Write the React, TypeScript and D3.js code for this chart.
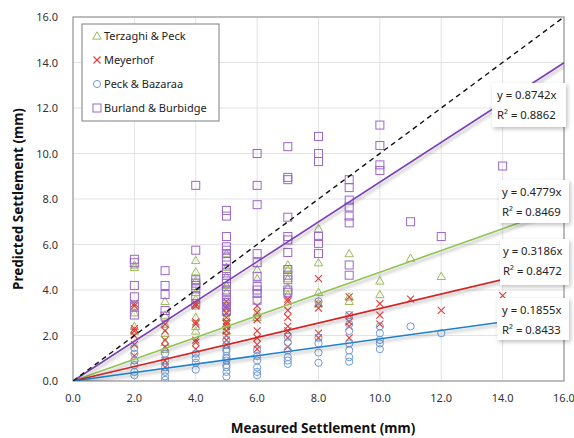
import React from "react";
import * as d3 from "d3";

// Series data: [measured, predicted values...]
const terzaghi: [number, number[]][] = [
  [2, [5.1, 5.0, 3.2, 3.0, 2.4, 2.2]],
  [3, [3.5, 2.9, 2.5, 2.1, 1.7, 1.4]],
  [4, [5.3, 4.8, 4.4, 3.9, 3.6, 3.3, 2.8, 2.4, 2.2]],
  [5, [5.6, 5.0, 4.6, 4.2, 3.9, 3.6, 3.3, 3.0, 2.8, 2.5, 2.2]],
  [6, [4.9, 4.5, 3.0, 2.8]],
  [7, [5.1, 4.9, 4.5, 4.1, 3.8]],
  [8, [6.7, 5.2, 3.9, 3.4]],
  [9, [5.6, 3.7, 3.5]],
  [10, [4.4, 3.8]],
  [11, [5.4]],
  [12, [4.6]],
];
const meyerhof: [number, number[]][] = [
  [2, [3.4, 3.3, 2.3, 2.2, 2.0, 1.6, 1.1]],
  [3, [2.5, 2.2, 1.8, 1.5, 0.9, 0.6]],
  [4, [3.4, 3.3, 2.6, 2.5, 1.8, 1.7, 1.4]],
  [5, [3.5, 3.3, 3.2, 3.0, 2.8, 2.6, 2.5, 2.4, 2.2, 2.0, 1.8, 1.6]],
  [6, [3.3, 3.0, 2.7, 2.2, 1.9, 1.6, 1.4]],
  [7, [3.6, 3.5, 3.1, 2.8, 2.4, 2.2, 1.9, 1.5]],
  [8, [4.5, 3.4, 3.2, 2.1, 1.9]],
  [9, [3.7, 2.9, 2.6, 2.4, 1.9]],
  [10, [3.4, 2.9, 2.5]],
  [11, [3.6]],
  [12, [3.1]],
  [14, [3.75]],
];
const peckBazaraa: [number, number[]][] = [
  [2, [1.45, 1.2, 0.9, 0.7, 0.4, 0.25]],
  [3, [1.2, 0.9, 0.6, 0.4, 0.2, 0.05]],
  [4, [1.2, 1.0, 0.8, 0.5]],
  [5, [1.8, 1.6, 1.4, 1.3, 1.1, 1.0, 0.9, 0.7, 0.6, 0.4, 0.2]],
  [6, [1.35, 1.1, 0.9, 0.6, 0.4, 0.25]],
  [7, [1.95, 1.7, 1.35, 1.05, 0.9, 0.75]],
  [8, [3.5, 1.9, 1.65, 1.25, 0.8]],
  [9, [2.9, 2.5, 2.2, 1.65, 1.35, 1.05, 0.85]],
  [10, [2.4, 2.1, 1.8, 1.65, 1.4]],
  [11, [2.4]],
  [12, [2.1]],
];
const burland: [number, number[]][] = [
  [2, [5.35, 5.2, 4.2, 3.7, 3.3, 2.9]],
  [3, [4.85, 4.2, 3.8, 3.1, 2.85]],
  [4, [8.6, 5.75, 4.45, 4.3, 4.2, 4.05, 3.75, 3.4]],
  [5, [7.5, 7.25, 6.35, 5.9, 5.75, 5.6, 5.45, 5.25, 4.95, 4.75, 4.5, 4.3, 4.0, 3.8, 3.55, 3.35, 3.1]],
  [6, [10.0, 8.6, 7.75, 5.6, 5.2, 4.6, 4.15, 4.0, 3.85, 3.55]],
  [7, [10.3, 8.95, 8.85, 7.2, 6.35, 6.2, 5.65, 4.9, 4.65, 4.45, 4.0, 3.9]],
  [8, [10.75, 10.0, 9.65, 6.35, 6.05, 5.6]],
  [9, [8.85, 8.5, 7.95, 7.65, 7.25, 6.95, 5.1, 4.65]],
  [10, [11.25, 10.35, 9.5, 9.25]],
  [11, [7.0]],
  [12, [6.35]],
  [14, [9.45]],
];

const seriesNames = ["Terzaghi & Peck", "Meyerhof", "Peck & Bazaraa", "Burland & Burbidge"];
const slopes = [0.4779, 0.3186, 0.1855, 0.8742];
const r2 = [0.8469, 0.8472, 0.8433, 0.8862];
const ticks = [0, 2, 4, 6, 8, 10, 12, 14, 16];

const markerColors = ["#9BBB59", "#E23B3B", "#6F9BD8", "#9A66CC"];
const lineColors = ["#94C255", "#D42424", "#1E7FD0", "#7A3DB8"];

const W = 574, H = 438;
const x = d3.scaleLinear().domain([0, 16]).range([73, 564]);
const y = d3.scaleLinear().domain([0, 16]).range([381, 17]);
const font = "'Noto Sans', 'Open Sans', sans-serif";

function flat(s: [number, number[]][]) {
  return s.flatMap(([m, ps]) => ps.map((p) => [m, p] as [number, number]));
}

function Marker({ kind, cx, cy, color }: { kind: number; cx: number; cy: number; color: string }) {
  const common = { fill: "none", stroke: color, strokeWidth: 1 };
  if (kind === 0) {
    const r = 4.2;
    return <path d={`M${cx},${cy - r}L${cx + r},${cy + r * 0.75}L${cx - r},${cy + r * 0.75}Z`} {...common} />;
  }
  if (kind === 1) {
    const r = 3.5;
    return <path d={`M${cx - r},${cy - r}L${cx + r},${cy + r}M${cx + r},${cy - r}L${cx - r},${cy + r}`} {...common} strokeWidth={1.1} />;
  }
  if (kind === 2) return <circle cx={cx} cy={cy} r={3.6} {...common} />;
  return <rect x={cx - 4} y={cy - 4} width={8} height={8} {...common} />;
}

// label placements (layout only)
const labelBoxes = [
  { bx: 499, by: 180, bw: 70, bh: 43, tx: 502 },
  { bx: 500, by: 239, bw: 69, bh: 46, tx: 503 },
  { bx: 497, by: 298, bw: 72, bh: 42, tx: 502 },
  { bx: 492, by: 83, bw: 74, bh: 44, tx: 497 },
];

export default function App() {
  const all = [terzaghi, meyerhof, peckBazaraa, burland].map(flat);
  const line = d3.line<[number, number]>().x((d) => x(d[0])).y((d) => y(d[1]));
  return (
    <svg width={W} height={H} style={{ display: "block", position: "absolute", left: 0, top: 0, background: "#fff" }} fontFamily={font}>
      <defs>
        <clipPath id="plot">
          <rect x={73} y={17} width={491} height={364} />
        </clipPath>
        <filter id="lshadow" x="-10%" y="-10%" width="120%" height="140%">
          <feDropShadow dx={1.5} dy={2.5} stdDeviation={1.6} floodColor="#000" floodOpacity={0.3} />
        </filter>
        <filter id="bshadow" x="-20%" y="-20%" width="150%" height="150%">
          <feDropShadow dx={1.5} dy={2} stdDeviation={2} floodColor="#000" floodOpacity={0.25} />
        </filter>
      </defs>
      <rect width={W} height={H} fill="#fff" />
      {/* grid */}
      {ticks.map((t) => (
        <g key={"g" + t}>
          <line x1={x(t)} x2={x(t)} y1={y(0)} y2={y(16)} stroke="#E3E3E3" strokeWidth={1} />
          <line x1={x(0)} x2={x(16)} y1={y(t)} y2={y(t)} stroke="#E3E3E3" strokeWidth={1} />
        </g>
      ))}
      <rect x={73} y={17} width={491} height={364} fill="none" stroke="#9A9A9A" strokeWidth={1.2} />
      {/* ticks labels */}
      {ticks.map((t) => (
        <text key={"xt" + t} x={x(t)} y={402} textAnchor="middle" fontSize={11} fill="#333">
          {t.toFixed(1)}
        </text>
      ))}
      {ticks.map((t) => (
        <text key={"yt" + t} x={58} y={y(t) + 4} textAnchor="end" fontSize={11} fill="#333">
          {t.toFixed(1)}
        </text>
      ))}
      <text x={323} y={433} textAnchor="middle" fontSize={13.5} fontWeight="bold" fill="#111">
        Measured Settlement (mm)
      </text>
      <text transform={`translate(23,199) rotate(-90)`} textAnchor="middle" fontSize={13.5} fontWeight="bold" fill="#111">
        Predicted Settlement (mm)
      </text>
      {/* points */}
      <g clipPath="url(#plot)">
        {all.map((pts, si) =>
          pts.map((p, i) => <Marker key={si + "-" + i} kind={si} cx={x(p[0])} cy={y(p[1])} color={markerColors[si]} />)
        )}
      </g>
      {/* lines */}
      <g clipPath="url(#plot)">
        {slopes.map((s, i) => (
          <path key={"l" + i} d={line([[0, 0], [16, 16 * s]]) || ""} stroke={lineColors[i]} strokeWidth={1.6} fill="none" filter="url(#lshadow)" />
        ))}
        <path d={line([[0, 0], [16, 16]]) || ""} stroke="#111" strokeWidth={1.4} strokeDasharray="5,4" fill="none" />
      </g>
      {/* equation labels */}
      {labelBoxes.map((b, i) => (
        <g key={"lb" + i}>
          <rect x={b.bx} y={b.by} width={b.bw} height={b.bh} fill="#fff" filter="url(#bshadow)" />
          <text x={b.tx} y={b.by + 16} fontSize={11.3} fill="#222">{`y = ${slopes[i].toFixed(4)}x`}</text>
          <text x={b.tx} y={b.by + 36} fontSize={11.3} fill="#222">
            R² = {r2[i].toFixed(4)}
          </text>
        </g>
      ))}
      {/* legend */}
      <rect x={82} y={24} width={137} height={97} fill="#fff" stroke="#7F7F7F" strokeWidth={1} />
      {seriesNames.map((n, i) => (
        <g key={"lg" + i}>
          <Marker kind={i} cx={97} cy={36 + i * 24} color={markerColors[i]} />
          <text x={104} y={40 + i * 24} fontSize={11} fill="#222">
            {n}
          </text>
        </g>
      ))}
    </svg>
  );
}
